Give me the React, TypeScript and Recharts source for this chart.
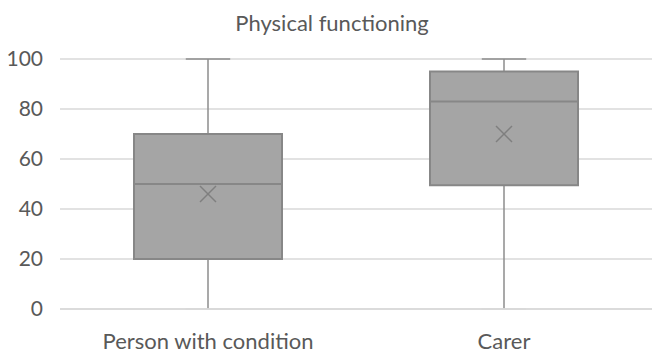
import { Bar, CartesianGrid, ComposedChart, Scatter, XAxis, YAxis } from 'recharts';

const categories = ['Person with condition', 'Carer'];
const minimums = [0, 0];
const lowerQuartiles = [20, 49.5];
const medians = [50, 83];
const upperQuartiles = [70, 95];
const maximums = [100, 100];
const means = [46, 70];
const yTicks = [0, 20, 40, 60, 80, 100];

const COLORS = {
  text: '#595959',
  grid: '#d9d9d9',
  boxFill: '#a5a5a5',
  boxStroke: '#878787',
  whisker: '#8c8c8c',
  mean: '#7f7f7f',
};

const FONT = 'Lato, "Open Sans", sans-serif';

const data = categories.map((name, i) => ({
  name,
  whisker: [minimums[i], maximums[i]],
  min: minimums[i],
  q1: lowerQuartiles[i],
  median: medians[i],
  q3: upperQuartiles[i],
  max: maximums[i],
  mean: means[i],
}));

function BoxShape(props: any) {
  const { x, y, width, height, payload } = props;
  const top = Math.min(y, y + height);
  const bottom = Math.max(y, y + height);
  const span = payload.max - payload.min;
  const perUnit = span > 0 ? (bottom - top) / span : 0;
  const toY = (v: number) => top + (payload.max - v) * perUnit;
  const cx = x + width / 2;
  const capHalf = width * 0.15;
  const q1Y = toY(payload.q1);
  const q3Y = toY(payload.q3);
  const medY = toY(payload.median);
  return (
    <g>
      <line x1={cx} x2={cx} y1={toY(payload.max)} y2={q3Y} stroke={COLORS.whisker} strokeWidth={1.5} />
      <line x1={cx} x2={cx} y1={q1Y} y2={toY(payload.min)} stroke={COLORS.whisker} strokeWidth={1.5} />
      <line x1={cx - capHalf} x2={cx + capHalf} y1={toY(payload.max)} y2={toY(payload.max)} stroke={COLORS.whisker} strokeWidth={1.5} />
      <line x1={cx - capHalf} x2={cx + capHalf} y1={toY(payload.min)} y2={toY(payload.min)} stroke={COLORS.grid} strokeWidth={1.5} />
      <rect x={x} y={q3Y} width={width} height={q1Y - q3Y} fill={COLORS.boxFill} stroke={COLORS.boxStroke} strokeWidth={2} />
      <line x1={x} x2={x + width} y1={medY} y2={medY} stroke={COLORS.boxStroke} strokeWidth={2} />
    </g>
  );
}

function MeanShape(props: any) {
  const { cx, cy } = props;
  const r = 8;
  return (
    <g stroke={COLORS.mean} strokeWidth={1.5}>
      <line x1={cx - r} y1={cy - r} x2={cx + r} y2={cy + r} />
      <line x1={cx - r} y1={cy + r} x2={cx + r} y2={cy - r} />
    </g>
  );
}

export default function App() {
  return (
    <div style={{ position: 'absolute', left: 0, top: 0, width: 652, height: 355, background: '#fff' }}>
      <div
        style={{
          position: 'absolute',
          left: 0,
          top: 11,
          width: 664,
          textAlign: 'center',
          fontFamily: FONT,
          fontSize: 22,
          color: COLORS.text,
          lineHeight: '24px',
        }}
      >
        Physical functioning
      </div>
      <ComposedChart width={652} height={355} data={data} margin={{ top: 59, right: 0, left: 0, bottom: 0 }} barSize={148}>
        <CartesianGrid stroke={COLORS.grid} strokeWidth={1.5} vertical={false} />
        <XAxis
          dataKey="name"
          height={46}
          axisLine={{ stroke: COLORS.grid, strokeWidth: 1.5 }}
          tickLine={false}
          tickSize={0}
          tickMargin={24}
          tick={{ fill: COLORS.text, fontSize: 22, fontFamily: FONT }}
        />
        <YAxis
          type="number"
          domain={[0, 100]}
          ticks={yTicks}
          width={60}
          axisLine={false}
          tickLine={false}
          tickSize={0}
          tickMargin={17}
          tick={{ fill: COLORS.text, fontSize: 21, fontFamily: FONT }}
        />
        <Bar dataKey="whisker" shape={BoxShape} isAnimationActive={false} />
        <Scatter dataKey="mean" shape={MeanShape} isAnimationActive={false} />
      </ComposedChart>
    </div>
  );
}
